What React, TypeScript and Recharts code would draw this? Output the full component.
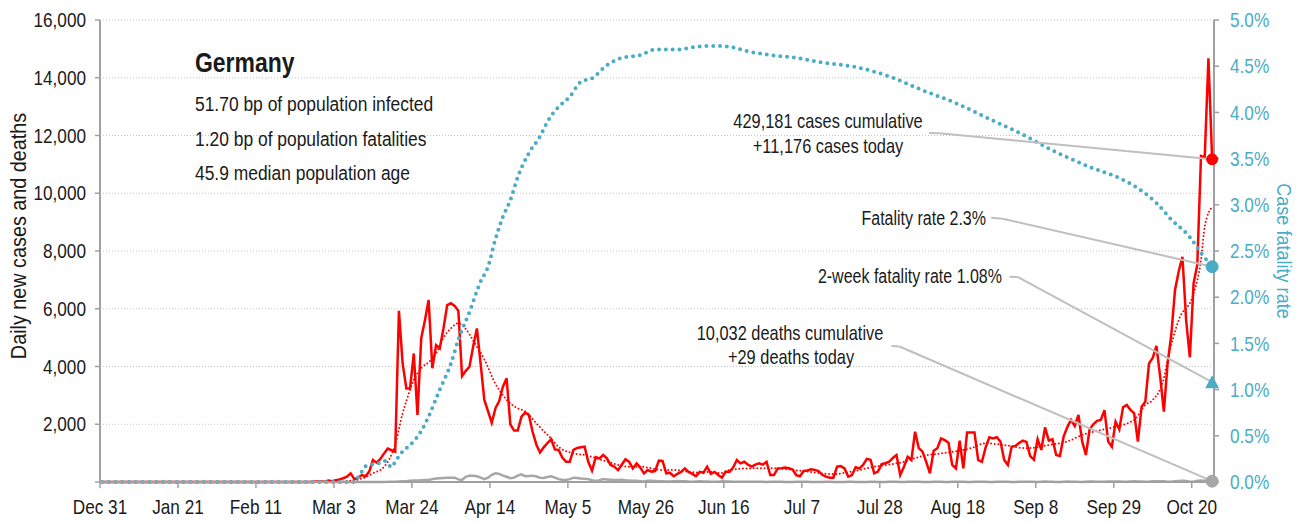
import {
  ComposedChart,
  Line,
  XAxis,
  YAxis,
  CartesianGrid,
  ReferenceLine,
  ReferenceDot,
} from 'recharts';

const FONT = '"Liberation Sans", Arial, sans-serif';
const RED = '#ff0000';
const BLUE = '#4bacc6';
const GREY = '#a6a6a6';
const LEADER = '#bfbfbf';
const AXIS = '#a0a0a0';
const INK = '#1a1a1a';

// x axis: day index counted from Dec 31
const TICK_DAYS = [0, 21, 42, 63, 84, 105, 126, 147, 168, 189, 210, 231, 252, 273, 294];
const TICK_LABELS = [
  'Dec 31', 'Jan 21', 'Feb 11', 'Mar 3', 'Mar 24', 'Apr 14', 'May 5', 'May 26',
  'Jun 16', 'Jul 7', 'Jul 28', 'Aug 18', 'Sep 8', 'Sep 29', 'Oct 20',
];
const CASE_TICKS = [0, 2000, 4000, 6000, 8000, 10000, 12000, 14000, 16000];
const RATE_TICKS = [0, 0.5, 1, 1.5, 2, 2.5, 3, 3.5, 4, 4.5, 5];

// daily new cases, Dec 31 .. Oct 25
const NEW_CASES = [
  0, 0, 0, 0, 0, 0, 0, 0, 0, 0,
  0, 0, 0, 0, 0, 0, 0, 0, 0, 0,
  0, 0, 0, 0, 0, 0, 0, 0, 1, 3,
  0, 1, 0, 0, 0, 1, 0, 0, 0, 0,
  2, 0, 0, 0, 0, 0, 0, 0, 0, 0,
  0, 0, 0, 0, 0, 0, 2, 10, 20, 15,
  12, 50, 30, 60, 90, 130, 185, 300, 100, 150,
  240, 200, 360, 760, 670, 800, 990, 1160, 1100, 1050,
  5930, 4110, 3240, 3240, 4450, 2320, 4970, 5600, 6300, 3940,
  4740, 4630, 5320, 6130, 6190, 6100, 5930, 3670, 3850, 3990,
  4700, 5320, 4100, 2840, 2450, 2050, 2560, 2800, 3300, 3590,
  2000, 1780, 1780, 2260, 2400, 2320, 1740, 1300, 1020, 1200,
  1350, 1480, 1130, 1110, 850, 700, 700, 1110, 1180, 1200,
  1220, 700, 390, 860, 820, 935, 820, 590, 530, 410,
  600, 785, 700, 470, 645, 500, 300, 415, 360, 380,
  740, 730, 300, 320, 200, 280, 350, 470, 350, 280,
  200, 350, 320, 530, 280, 350, 240, 150, 360, 350,
  500, 760, 645, 700, 600, 530, 600, 645, 600, 700,
  240, 240, 470, 480, 500, 480, 430, 240, 200, 380,
  400, 440, 420, 380, 250, 185, 150, 150, 530, 550,
  470, 185, 240, 510, 470, 590, 800, 770, 300, 360,
  620, 650, 700, 830, 935, 240, 530, 870, 760, 1740,
  1170, 1050, 700, 300, 1085, 1170, 1510, 1450, 1360, 590,
  470, 1430, 470, 1710, 1710, 1710, 760, 700, 1200, 1550,
  1510, 1550, 1400, 760, 590, 1220, 1250, 1350, 1430, 1390,
  900, 770, 1480, 1110, 1890, 1430, 1480, 935, 900, 1570,
  1900, 2150, 1940, 2320, 1400, 935, 1820, 2000, 2120, 2150,
  2490, 1400, 1220, 2090, 1820, 2590, 2670, 2500, 2380, 1400,
  2610, 2780, 4110, 4300, 4710, 3650, 2440, 4110, 5100, 6650,
  7300, 7800, 5600, 4320, 6880, 7520, 11290, 11240, 14670, 11176,
];

// daily new deaths, same days
const NEW_DEATHS = [
  0, 0, 0, 0, 0, 0, 0, 0, 0, 0,
  0, 0, 0, 0, 0, 0, 0, 0, 0, 0,
  0, 0, 0, 0, 0, 0, 0, 0, 0, 0,
  0, 0, 0, 0, 0, 0, 0, 0, 0, 0,
  0, 0, 0, 0, 0, 0, 0, 0, 0, 0,
  0, 0, 0, 0, 0, 0, 0, 0, 0, 0,
  0, 0, 0, 0, 0, 0, 0, 0, 0, 2,
  0, 1, 0, 1, 2, 3, 4, 5, 12, 11,
  20, 28, 30, 40, 48, 55, 60, 65, 70, 100,
  120, 130, 140, 145, 150, 150, 90, 70, 180, 220,
  220, 200, 150, 100, 150, 250, 300, 280, 220, 180,
  130, 150, 220, 265, 200, 210, 220, 190, 150, 140,
  170, 200, 150, 100, 80, 70, 100, 150, 140, 120,
  110, 100, 60, 35, 60, 100, 90, 80, 70, 70,
  80, 60, 50, 40, 40, 30, 20, 45, 40, 35,
  30, 25, 15, 20, 30, 35, 30, 25, 15, 10,
  20, 25, 20, 15, 10, 8, 12, 25, 20, 15,
  12, 10, 8, 5, 10, 12, 10, 8, 5, 4,
  6, 8, 10, 6, 4, 3, 2, 5, 8, 6,
  5, 4, 3, 2, 3, 6, 5, 4, 2, 1,
  3, 5, 6, 4, 2, 1, 4, 6, 5, 3,
  2, 4, 8, 6, 5, 2, 1, 5, 7, 6,
  5, 3, 1, 4, 8, 6, 5, 2, 1, 5,
  8, 7, 6, 3, 2, 6, 9, 8, 6, 3,
  2, 7, 10, 9, 8, 4, 3, 8, 12, 10,
  9, 5, 3, 9, 14, 12, 10, 4, 3, 10,
  15, 13, 12, 5, 4, 12, 18, 14, 12, 6,
  5, 14, 20, 16, 15, 8, 6, 18, 24, 20,
  18, 9, 7, 22, 30, 28, 25, 10, 8, 30,
  35, 40, 33, 13, 12, 42, 49, 45, 58, 29,
];

// smoothed cases (red dotted), read at these days
const AVG_DAYS = [
  0, 63, 66, 70, 73, 76, 79, 81, 82, 84, 86, 88, 90, 92, 94, 96, 98, 100, 103, 106,
  109, 112, 114, 117, 121, 123, 127, 130, 135, 142, 145, 151, 154, 160, 163, 167, 169, 174, 180, 188,
  197, 203, 208, 216, 221, 226, 234, 238, 243, 249, 255, 260, 264, 269, 273, 278, 281, 283, 286, 287,
  290, 294, 296, 297, 299,
];
const AVG_CASES = [
  0, 0, 30, 120, 300, 530, 1300, 2380, 2800, 3530, 3940, 4150, 4450, 5000, 5320, 5500, 5300, 4900, 4250, 3400,
  2850, 2550, 2450, 2030, 1500, 1220, 990, 935, 750, 530, 530, 415, 415, 330, 350, 310, 415, 470, 480, 390,
  275, 390, 530, 700, 900, 990, 1170, 1340, 1280, 1170, 1280, 1400, 1630, 1800, 1920, 2150, 2670, 2840, 3600, 4220,
  5610, 6530, 7690, 8840, 9530,
];

// case fatality rate in %, read at these days
const CFR_DAYS = [
  0, 68, 69, 70, 71, 73, 75, 76, 77, 78, 79, 81, 83, 86, 88, 91, 94, 96, 99, 102,
  104, 106, 108, 110, 112, 115, 118, 120, 123, 126, 129, 132, 136, 140, 145, 149, 155, 160, 165, 169,
  174, 180, 187, 194, 203, 212, 221, 230, 239, 248, 257, 266, 275, 279, 284, 288, 293, 296, 299,
];
const CFR_PCT = [
  0, 0, 0.05, 0.11, 0.17, 0.19, 0.21, 0.23, 0.2, 0.16, 0.22, 0.33, 0.4, 0.55, 0.71, 1.0, 1.28, 1.54, 1.84, 2.17,
  2.33, 2.63, 2.87, 3.05, 3.3, 3.56, 3.74, 3.9, 4.06, 4.17, 4.33, 4.37, 4.51, 4.59, 4.62, 4.68, 4.68, 4.71, 4.72, 4.71,
  4.66, 4.62, 4.59, 4.54, 4.49, 4.39, 4.24, 4.1, 3.93, 3.76, 3.57, 3.41, 3.27, 3.18, 3.02, 2.84, 2.65, 2.48, 2.33,
];

const TOTAL_CASES = 429181;
const TOTAL_DEATHS = 10032;
const FATALITY_RATE = 2.33;
const TWO_WEEK_RATE = 1.08;
const STATS = [
  '51.70 bp of population infected',
  '1.20 bp of population fatalities',
  '45.9 median population age',
];

const fmt = (v: number) => v.toLocaleString('en-US');

// condensed look: Arial metrics squeezed horizontally
function Narrow({ x, y, size, squeeze = 0.82, anchor = 'start', fill = INK, weight = 'normal', rotate = 0, baseline, children }: any) {
  return (
    <text
      transform={`translate(${x},${y}) rotate(${rotate}) scale(${squeeze},1)`}
      fontSize={size}
      fontWeight={weight}
      textAnchor={anchor}
      fill={fill}
      dominantBaseline={baseline}
    >
      {children}
    </text>
  );
}

function makeTick(format: (v: number) => string, fill: string, dy: string) {
  return (props: any) => {
    const { x, y, payload, textAnchor } = props;
    return (
      <text
        transform={`translate(${x},${y}) scale(0.86,1)`}
        fontSize={20}
        fill={fill}
        textAnchor={textAnchor}
        dy={dy}
        fontFamily={FONT}
      >
        {format(payload.value)}
      </text>
    );
  };
}

function Triangle(props: any) {
  const { cx, cy } = props;
  return (
    <polygon
      points={`${cx},${cy - 7} ${cx - 7},${cy + 6} ${cx + 7},${cy + 6}`}
      fill={BLUE}
    />
  );
}

export default function App() {
  const avgByDay = new Map(AVG_DAYS.map((d, i) => [d, AVG_CASES[i]]));
  const cfrByDay = new Map(CFR_DAYS.map((d, i) => [d, CFR_PCT[i]]));

  const rows = NEW_CASES.map((cases, i) => ({
    x: i + 0.5,
    cases,
    deaths: NEW_DEATHS[i],
    avg: avgByDay.has(i) ? avgByDay.get(i) : null,
    cfr: cfrByDay.has(i) ? cfrByDay.get(i) : null,
  }));

  const last = rows[rows.length - 1];
  const lastX = last.x;

  return (
    <div
      style={{
        position: 'absolute',
        left: 0,
        top: 0,
        width: 1307,
        height: 523,
        background: '#fff',
        fontFamily: FONT,
      }}
    >
      <ComposedChart
        width={1307}
        height={523}
        data={rows}
        margin={{ top: 20, right: 0, bottom: 0, left: 0 }}
      >
        <CartesianGrid
          yAxisId="cases"
          vertical={false}
          stroke="#c4c4c4"
          strokeDasharray="1 2"
        />
        <XAxis
          dataKey="x"
          type="number"
          domain={[0, 300]}
          ticks={TICK_DAYS}
          interval={0}
          height={41}
          axisLine={{ stroke: AXIS, strokeWidth: 2 }}
          tickLine={{ stroke: AXIS, strokeWidth: 1.5 }}
          tickSize={6}
          tickMargin={12}
          tick={makeTick((d) => TICK_LABELS[TICK_DAYS.indexOf(d)] ?? '', INK, '0.72em')}
        />
        <YAxis
          yAxisId="cases"
          orientation="left"
          width={100}
          domain={[0, 16000]}
          ticks={CASE_TICKS}
          interval={0}
          axisLine={{ stroke: AXIS, strokeWidth: 2 }}
          tickLine={{ stroke: AXIS, strokeWidth: 1.5 }}
          tickSize={5}
          tickMargin={9}
          tick={makeTick((v) => (v === 0 ? '' : fmt(v)), INK, '0.36em')}
        />
        <YAxis
          yAxisId="rate"
          orientation="right"
          width={93}
          domain={[0, 5]}
          ticks={RATE_TICKS}
          interval={0}
          axisLine={{ stroke: AXIS, strokeWidth: 2 }}
          tickLine={{ stroke: AXIS, strokeWidth: 1.5 }}
          tickSize={5}
          tickMargin={11}
          tick={makeTick((v) => `${v.toFixed(1)}%`, BLUE, '0.36em')}
        />

        <Line
          yAxisId="cases"
          dataKey="deaths"
          type="linear"
          stroke={GREY}
          strokeWidth={2.5}
          dot={false}
          isAnimationActive={false}
        />
        <Line
          yAxisId="cases"
          dataKey="cases"
          type="linear"
          stroke={RED}
          strokeWidth={2.5}
          dot={false}
          isAnimationActive={false}
        />
        <Line
          yAxisId="cases"
          dataKey="avg"
          type="monotone"
          connectNulls
          stroke={RED}
          strokeWidth={2}
          strokeDasharray="0 3.6"
          strokeLinecap="round"
          dot={false}
          isAnimationActive={false}
        />
        <Line
          yAxisId="rate"
          dataKey="cfr"
          type="monotone"
          connectNulls
          stroke={BLUE}
          strokeWidth={4}
          strokeDasharray="0 6.8"
          strokeLinecap="round"
          dot={false}
          isAnimationActive={false}
        />

        {/* leader lines from the notes to the latest values */}
        <ReferenceLine
          yAxisId="cases"
          segment={[{ x: 223.3, y: 12090 }, { x: 226.0, y: 12080 }]}
          stroke={LEADER}
          strokeWidth={2}
        />
        <ReferenceLine
          yAxisId="cases"
          segment={[{ x: 226.0, y: 12080 }, { x: lastX, y: last.cases }]}
          stroke={LEADER}
          strokeWidth={2}
        />
        <ReferenceLine
          yAxisId="rate"
          segment={[{ x: 240.0, y: 2.86 }, { x: 243.1, y: 2.85 }]}
          stroke={LEADER}
          strokeWidth={2}
        />
        <ReferenceLine
          yAxisId="rate"
          segment={[{ x: 243.1, y: 2.85 }, { x: lastX, y: FATALITY_RATE }]}
          stroke={LEADER}
          strokeWidth={2}
        />
        <ReferenceLine
          yAxisId="rate"
          segment={[{ x: 244.9, y: 2.222 }, { x: 247.1, y: 2.219 }]}
          stroke={LEADER}
          strokeWidth={2}
        />
        <ReferenceLine
          yAxisId="rate"
          segment={[{ x: 247.1, y: 2.219 }, { x: lastX, y: TWO_WEEK_RATE }]}
          stroke={LEADER}
          strokeWidth={2}
        />
        <ReferenceLine
          yAxisId="cases"
          segment={[{ x: 213.1, y: 4710 }, { x: 215.3, y: 4693 }]}
          stroke={LEADER}
          strokeWidth={2}
        />
        <ReferenceLine
          yAxisId="cases"
          segment={[{ x: 215.3, y: 4693 }, { x: lastX, y: last.deaths }]}
          stroke={LEADER}
          strokeWidth={2}
        />

        <ReferenceDot yAxisId="cases" x={lastX} y={last.cases} r={5.5} fill={RED} stroke={RED} />
        <ReferenceDot yAxisId="rate" x={lastX} y={FATALITY_RATE} r={6} fill={BLUE} stroke={BLUE} />
        <ReferenceDot yAxisId="rate" x={lastX} y={TWO_WEEK_RATE} r={7} shape={Triangle} />
        <ReferenceDot yAxisId="cases" x={lastX} y={last.deaths} r={6} fill={GREY} stroke={GREY} />
      </ComposedChart>

      <svg
        width={1307}
        height={523}
        style={{ position: 'absolute', left: 0, top: 0, pointerEvents: 'none' }}
        fontFamily={FONT}
      >
        <Narrow x={195} y={72} size={28} weight="bold" squeeze={0.82}>Germany</Narrow>
        {STATS.map((s, i) => (
          <Narrow key={s} x={195} y={111 + i * 34.5} size={21} squeeze={0.83}>{s}</Narrow>
        ))}

        <Narrow x={828} y={128} size={20} squeeze={0.82} anchor="middle">
          {fmt(TOTAL_CASES)} cases cumulative
        </Narrow>
        <Narrow x={828} y={153} size={20} squeeze={0.82} anchor="middle">
          +{fmt(last.cases)} cases today
        </Narrow>
        <Narrow x={986} y={225} size={20} squeeze={0.8} anchor="end">
          Fatality rate {FATALITY_RATE.toFixed(1)}%
        </Narrow>
        <Narrow x={1002} y={283} size={20} squeeze={0.8} anchor="end">
          2-week fatality rate {TWO_WEEK_RATE.toFixed(2)}%
        </Narrow>
        <Narrow x={790} y={340} size={20} squeeze={0.82} anchor="middle">
          {fmt(TOTAL_DEATHS)} deaths cumulative
        </Narrow>
        <Narrow x={791} y={364} size={20} squeeze={0.82} anchor="middle">
          +{last.deaths} deaths today
        </Narrow>

        <Narrow x={18} y={236} size={22} squeeze={0.9} anchor="middle" rotate={-90} baseline="central">
          Daily new cases and deaths
        </Narrow>
        <Narrow x={1285} y={251} size={21} squeeze={0.86} anchor="middle" rotate={90} baseline="central" fill={BLUE}>
          Case fatality rate
        </Narrow>
      </svg>
    </div>
  );
}
